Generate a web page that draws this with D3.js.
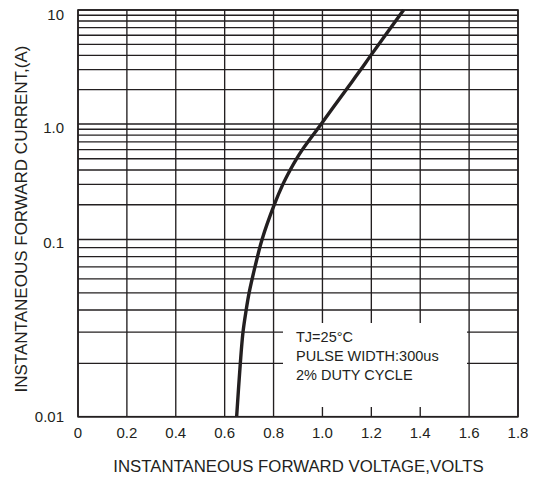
<!DOCTYPE html>
<html>
<head>
<meta charset="utf-8">
<script src="https://cdn.jsdelivr.net/npm/d3@7"></script>
<style>
  html, body { margin: 0; padding: 0; background: #fff; }
  svg { display: block; font-family: "Liberation Sans", Arial, Helvetica, sans-serif; }
</style>
</head>
<body>
<svg id="chart" width="542" height="479"></svg>
<script>
// Forward characteristic: instantaneous forward voltage (V) vs current (A)
const voltage = [0.649, 0.664, 0.675, 0.688, 0.700, 0.724, 0.753, 0.803, 0.838, 0.868, 0.894, 0.918, 0.995, 1.097, 1.157, 1.198, 1.332];
const current = [0.01, 0.02, 0.03, 0.04, 0.05, 0.07, 0.1, 0.2, 0.3, 0.4, 0.5, 0.6, 1.0, 2, 3, 4, 10];

const xTicks = [0, 0.2, 0.4, 0.6, 0.8, 1.0, 1.2, 1.4, 1.6, 1.8];
const xTickLabels = ["0", "0.2", "0.4", "0.6", "0.8", "1.0", "1.2", "1.4", "1.6", "1.8"];
const yTicks = [10, 1, 0.1, 0.01];
const yTickLabels = ["10", "1.0", "0.1", "0.01"];
const noteLines = ["TJ=25°C", "PULSE WIDTH:300us", "2% DUTY CYCLE"];

const ink = "#231f20";
const svg = d3.select("#chart");

const plotL = 78, plotR = 518, plotT = 10, plotB = 416.7;
const x = d3.scaleLinear().domain([0, 1.8]).range([plotL, plotR]);
// log axis; the lowest decade is drawn taller than the two above it
const y = d3.scaleLog().domain([0.01, 0.1, 1, 10]).range([plotB, 239.5, 124, plotT]);

// horizontal grid: every 1..9 multiple in each decade
const hLines = [];
[0.01, 0.1, 1].forEach(d => { for (let k = 1; k <= 9; k++) hLines.push(+(d * k).toPrecision(3)); });
hLines.push(10);

const grid = svg.append("g").attr("stroke", ink).attr("stroke-width", 1.35);
grid.selectAll("line.h").data(hLines).join("line")
  .attr("class", "h")
  .attr("x1", plotL).attr("x2", plotR)
  .attr("y1", d => y(d)).attr("y2", d => y(d));
grid.selectAll("line.v").data(xTicks).join("line")
  .attr("class", "v")
  .attr("x1", d => x(d)).attr("x2", d => x(d))
  .attr("y1", plotT).attr("y2", plotB);

// conditions note box (blanks out the grid behind it)
const box = { x0: 283, x1: 467, y0: 323, y1: 407 };
svg.append("rect")
  .attr("x", box.x0).attr("y", box.y0)
  .attr("width", box.x1 - box.x0).attr("height", box.y1 - box.y0)
  .attr("fill", "#fff");

svg.append("g").selectAll("text").data(noteLines).join("text")
  .attr("x", 296)
  .attr("y", (d, i) => 341.5 + i * 19.2)
  .attr("font-size", 14.5)
  .attr("fill", ink)
  .text(d => d);

// frame
svg.append("rect")
  .attr("x", plotL).attr("y", plotT)
  .attr("width", plotR - plotL).attr("height", plotB - plotT)
  .attr("fill", "none").attr("stroke", ink).attr("stroke-width", 1.6);

// characteristic curve
const pts = voltage.map((v, i) => [v, current[i]]);
svg.append("path")
  .datum(pts)
  .attr("fill", "none")
  .attr("stroke", ink)
  .attr("stroke-width", 3.4)
  .attr("d", d3.line().x(d => x(d[0])).y(d => y(d[1])).curve(d3.curveCatmullRom.alpha(0.5)));

// tick labels
svg.append("g").selectAll("text").data(xTicks).join("text")
  .attr("x", d => x(d))
  .attr("y", 438)
  .attr("text-anchor", "middle")
  .attr("font-size", 15)
  .attr("fill", ink)
  .text((d, i) => xTickLabels[i]);

svg.append("g").selectAll("text").data(yTicks).join("text")
  .attr("x", 64)
  .attr("y", d => Math.max(plotT + 10, Math.min(y(d) + 8.5, plotB + 5)))
  .attr("text-anchor", "end")
  .attr("font-size", 15)
  .attr("fill", ink)
  .text((d, i) => yTickLabels[i]);

// axis titles
svg.append("text")
  .attr("x", 298.5).attr("y", 472)
  .attr("text-anchor", "middle")
  .attr("font-size", 16.8)
  .attr("fill", ink)
  .text("INSTANTANEOUS FORWARD VOLTAGE,VOLTS");

svg.append("text")
  .attr("transform", "translate(27,219) rotate(-90)")
  .attr("text-anchor", "middle")
  .attr("font-size", 17)
  .attr("fill", ink)
  .text("INSTANTANEOUS FORWARD CURRENT,(A)");
</script>
</body>
</html>
